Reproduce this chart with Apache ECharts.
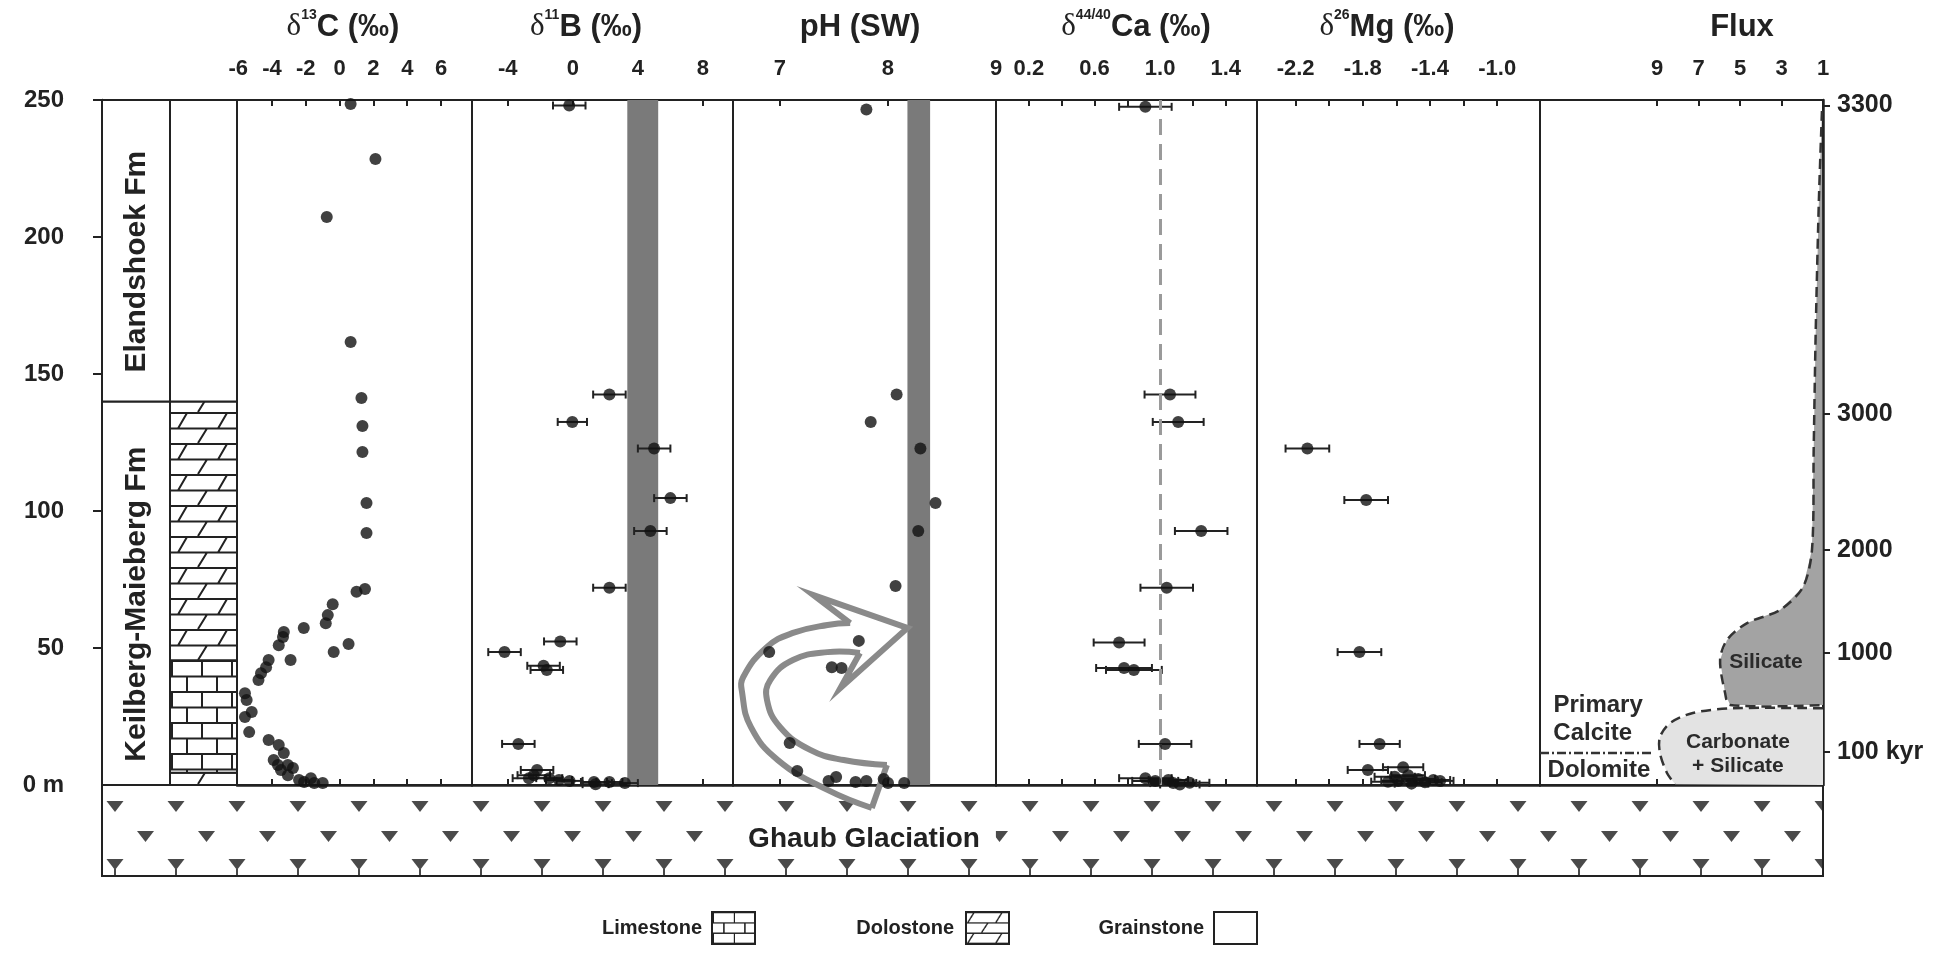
<!DOCTYPE html>
<html lang="en">
<head>
<meta charset="UTF-8">
<title>Ghaub cap carbonate profiles</title>
<script src="https://cdn.jsdelivr.net/npm/echarts@6/dist/echarts.min.js"></script>
<style>
    *{padding:0;margin:0;}
    html,body{width:100%;height:100%;background:#fff;}
    #main{width:1942px;height:958px;}
</style>
</head>
<body>
<div id="main"></div>
<script>
    // ---- data (depth in m above the glacial contact) ----
    var depthTicks = [0, 50, 100, 150, 200, 250];

    var formationName = ['Keilberg-Maieberg Fm', 'Elandshoek Fm'];
    var formationBase = [0, 140];
    var formationTop = [140, 250];
    var formationLabelDepth = [66, 191];

    var lithoType = ['dolostone', 'limestone', 'dolostone', 'grainstone'];
    var lithoBase = [0, 4.5, 45.5, 140];
    var lithoTop = [4.5, 45.5, 140, 250];

    var c13Value = [0.65, 2.12, -0.76, 0.65, 1.29, 1.35, 1.35, 1.59, 1.59, 1.0, 1.5, -0.41, -0.7, -0.82, -2.12, 0.53, -0.35,
        -3.3, -3.35, -3.6, -2.9, -4.2, -4.35, -4.65, -4.8, -5.6, -5.5, -5.2, -5.6, -5.35, -4.2, -3.6, -3.3, -3.9, -3.65, -3.06,
        -3.47, -2.76, -3.06, -2.4, -1.7, -1.0, -2.1, -1.5];
    var c13Depth = [248.5, 228.5, 207.3, 161.7, 141.2, 131, 121.5, 102.9, 92, 70.5, 71.5, 66, 62, 59, 57.3, 51.5, 48.5,
        55.8, 54, 51, 45.6, 45.6, 43, 40.8, 38.3, 33.5, 31, 26.6, 24.8, 19.3, 16.4, 14.6, 11.7, 9.1, 7.3, 7.3,
        5.5, 6.2, 3.6, 1.8, 2.5, 0.7, 1.1, 0.7];

    var b11Value = [-0.22, 2.25, -0.03, 5.0, 6.0, 4.77, 2.25, -0.77, -4.2, -1.8, -1.6, -3.35, -2.2, -2.4, -2.7, -1.45, -0.85, -0.2, 1.3, 2.25, 1.4, 3.2];
    var b11Depth = [248, 142.5, 132.5, 122.8, 104.7, 92.7, 72, 52.4, 48.5, 43.5, 42, 15, 5.5, 3.6, 2.5, 2.5, 1.8, 1.5, 1.1, 1.1, 0.3, 0.7];
    var b11Err = [1.0, 1.0, 0.9, 1.0, 1.0, 1.0, 1.0, 1.0, 1.0, 1.0, 1.0, 1.0, 1.0, 1.0, 1.0, 0.8, 0.8, 0.8, 0.8, 0.8, 0.8, 0.8];
    var b11Band = [3.35, 5.25];

    var phValue = [7.80, 8.08, 7.84, 8.30, 8.44, 8.28, 8.07, 7.73, 6.90, 7.48, 7.57, 7.09, 7.16, 7.45, 7.52, 7.70, 7.80, 7.96, 8.00, 8.15];
    var phDepth = [246.5, 142.5, 132.5, 122.8, 102.9, 92.7, 72.6, 52.6, 48.5, 43, 42.7, 15.3, 5.1, 1.5, 2.9, 1.1, 1.5, 2.2, 0.7, 0.7];
    var phBand = [8.18, 8.39];

    var caValue = [0.91, 1.06, 1.11, 1.25, 1.04, 0.75, 0.78, 0.84, 1.03, 0.91, 0.97, 1.05, 1.08, 1.12, 1.18];
    var caDepth = [247.5, 142.5, 132.5, 92.7, 72, 52, 42.7, 42, 15, 2.5, 1.5, 1.8, 0.7, 0.2, 0.8];
    var caErr = [0.16, 0.155, 0.155, 0.16, 0.16, 0.155, 0.17, 0.17, 0.16, 0.16, 0.14, 0.12, 0.14, 0.12, 0.12];
    var caRef = 1.0;

    var mgValue = [-2.13, -1.78, -1.82, -1.70, -1.77, -1.56, -1.61, -1.53, -1.47, -1.59, -1.38, -1.65, -1.51, -1.43, -1.34];
    var mgDepth = [122.8, 104, 48.5, 15, 5.5, 6.5, 3, 3.6, 2.2, 1.5, 1.8, 1.2, 0.5, 1.0, 1.5];
    var mgErr = [0.13, 0.13, 0.13, 0.12, 0.12, 0.12, 0.12, 0.1, 0.1, 0.1, 0.1, 0.1, 0.1, 0.1, 0.08];

    var silicateFlux = [1.05, 1.2, 1.35, 1.45, 1.53, 1.96, 3.07, 4.66, 5.63, 5.96, 5.72, 5.48, 1];
    var silicateDepth = [246, 213, 166, 122, 86, 72.3, 63.9, 59.1, 52.9, 45.6, 33.6, 29.2, 29.2];
    var carbSilFlux = [1, 5.34, 7.27, 8.37, 8.86, 8.86, 8.52, 8.13, 1];
    var carbSilDepth = [28, 28, 26.3, 22.6, 17.5, 11.7, 4.4, 0.3, 0];
    var dolomiteTopFlux = [14.64, 9.2];
    var dolomiteTopDepth = [11.7, 11.7];

    var fluxTextLabel = ['Silicate', 'Carbonate', '+ Silicate', 'Primary', 'Calcite', 'Dolomite'];
    var fluxTextFlux = [3.75, 5.1, 5.1, 11.84, 12.1, 11.8];
    var fluxTextDepth = [44.9, 15.7, 6.9, 29.2, 19, 5.5];

    var timeLabel = ['3300', '3000', '2000', '1000', '100 kyr'];
    var timeDepth = [248, 135.5, 85.8, 48.2, 12];

    var arrowOuterPH = [7.85, 7.44, 6.98, 6.73, 6.65, 6.66, 6.88, 7.12, 7.44, 7.65];
    var arrowOuterDepth = [-8.4, -1.8, 9.1, 21.2, 33.6, 39.4, 50.4, 55.5, 58.4, 59.1];
    var arrowHeadPH = [7.65, 7.31, 8.18, 7.56, 7.74];
    var arrowHeadDepth = [59.1, 69.3, 57.3, 35.4, 48.2];
    var arrowInnerPH = [7.74, 7.44, 7.12, 6.91, 6.88, 7.00, 7.28, 7.59, 7.99];
    var arrowInnerDepth = [48.2, 48.5, 45.6, 38.3, 31.0, 21.2, 12.8, 9.1, 7.3];

    // ---- layout ----
    var INK = '#222';
    var FONT = "'Liberation Sans', Arial, sans-serif";
    var panelLeft = [102, 170, 237, 472, 733, 996, 1257, 1540];
    var panelRight = [170, 237, 472, 733, 996, 1257, 1540, 1823];
    var GRID_TOP = 100, GRID_H = 685;

    function makeCanvas(w, h, draw) {
        var c = document.createElement('canvas');
        c.width = w; c.height = h;
        draw(c.getContext('2d'));
        return c;
    }
    var brickTile = makeCanvas(30, 31, function (g) {
        g.fillStyle = '#fff'; g.fillRect(0, 0, 30, 31);
        g.strokeStyle = INK; g.lineWidth = 2;
        g.beginPath();
        g.moveTo(0, 1); g.lineTo(30, 1);
        g.moveTo(0, 16.5); g.lineTo(30, 16.5);
        g.moveTo(2, 1); g.lineTo(2, 16.5);
        g.moveTo(17, 16.5); g.lineTo(17, 31);
        g.stroke();
    });
    var doloTile = makeCanvas(67, 31, function (g) {
        g.fillStyle = '#fff'; g.fillRect(0, 0, 67, 31);
        g.strokeStyle = INK; g.lineWidth = 2;
        g.beginPath();
        g.moveTo(0, 1); g.lineTo(67, 1);
        g.moveTo(0, 16.5); g.lineTo(67, 16.5);
        g.moveTo(8, 16.5); g.lineTo(17, 1);
        g.moveTo(48, 16.5); g.lineTo(57, 1);
        g.moveTo(28, 31); g.lineTo(37, 16.5);
        g.stroke();
    });
    var iceTile = makeCanvas(61, 91, function (g) {
        g.fillStyle = '#fff'; g.fillRect(0, 0, 61, 91);
        g.fillStyle = '#4a4a4a'; g.strokeStyle = '#4a4a4a'; g.lineWidth = 2;
        [[13, 22], [43.5, 52], [13, 80]].forEach(function (p) {
            g.beginPath();
            g.moveTo(p[0] - 8.5, p[1] - 6); g.lineTo(p[0] + 8.5, p[1] - 6); g.lineTo(p[0], p[1] + 5);
            g.closePath(); g.fill();
        });
        g.beginPath(); g.moveTo(13, 84); g.lineTo(13, 91); g.stroke();
    });
    var lithoFill = {
        limestone: {image: brickTile, repeat: 'repeat', x: 170, y: 784},
        dolostone: {image: doloTile, repeat: 'repeat', x: 170, y: 784},
        grainstone: '#fff'
    };

    var grids = panelLeft.map(function (l, i) {
        return {left: l, width: panelRight[i] - l, top: GRID_TOP, height: GRID_H,
            show: true, borderColor: INK, borderWidth: 2, backgroundColor: 'rgba(0,0,0,0)'};
    });

    var labelStyle = {color: INK, fontSize: 22, fontWeight: 'bold', fontFamily: FONT};
    function topAxis(grid, min, max, ticks, labels, fmt, inverse) {
        return {
            type: 'value', gridIndex: grid, position: 'top', min: min, max: max, inverse: !!inverse,
            axisLine: {show: true, lineStyle: {color: INK, width: 2.5}},
            axisTick: {show: true, length: 6, lineStyle: {color: INK, width: 2}, customValues: ticks},
            axisLabel: Object.assign({show: true, margin: 20, customValues: labels, formatter: fmt}, labelStyle),
            splitLine: {show: false}
        };
    }
    function innerTicks(grid, min, max, ticks, inverse) {
        return {
            type: 'value', gridIndex: grid, position: 'top', min: min, max: max, inverse: !!inverse,
            axisLine: {show: false},
            axisTick: {show: true, inside: true, length: 6, lineStyle: {color: INK, width: 2}, customValues: ticks},
            axisLabel: {show: false}, splitLine: {show: false}
        };
    }
    function hiddenAxis(grid) {
        return {type: 'value', gridIndex: grid, min: 0, max: 1, show: false};
    }
    var fmt1 = function (v) { return v.toFixed(1); };
    var fmtInt = function (v) { return String(Math.round(v)); };

    var c13Ticks = [-4, -2, 0, 2, 4, 6], c13Labels = [-6, -4, -2, 0, 2, 4, 6];
    var b11Ticks = [-4, 0, 4, 8];
    var phTicks = [7, 8], phLabels = [7, 8, 9];
    var caTicks = [0.2, 0.4, 0.6, 0.8, 1.0, 1.2, 1.4], caLabels = [0.2, 0.6, 1.0, 1.4];
    var mgTicks = [-2.2, -2.0, -1.8, -1.6, -1.4, -1.2, -1.0], mgLabels = [-2.2, -1.8, -1.4, -1.0];
    var fluxTicks = [9, 7, 5, 3, 1];

    var xAxes = [
        hiddenAxis(0), hiddenAxis(1),
        topAxis(2, -6.07, 7.83, c13Ticks, c13Labels, fmtInt),
        topAxis(3, -6.2, 9.85, b11Ticks, b11Ticks, fmtInt),
        topAxis(4, 6.565, 9.0, phTicks, phLabels, fmtInt),
        topAxis(5, 0, 1.59, caTicks, caLabels, fmt1),
        topAxis(6, -2.43, -0.745, mgTicks, mgLabels, fmt1),
        topAxis(7, 1, 14.64, fluxTicks, fluxTicks, fmtInt, true),
        innerTicks(2, -6.07, 7.83, c13Ticks),
        innerTicks(3, -6.2, 9.85, b11Ticks),
        innerTicks(4, 6.565, 9.0, phTicks),
        innerTicks(5, 0, 1.59, caTicks),
        innerTicks(6, -2.43, -0.745, mgTicks),
        innerTicks(7, 1, 14.64, fluxTicks, true)
    ];

    var yAxes = panelLeft.map(function (l, i) {
        return {type: 'value', gridIndex: i, min: 0, max: 250, show: false};
    });
    yAxes[0] = {
        type: 'value', gridIndex: 0, min: 0, max: 250, position: 'left', offset: 20,
        axisLine: {show: true, lineStyle: {color: INK, width: 2.5}},
        axisTick: {show: true, length: 9, lineStyle: {color: INK, width: 2}, customValues: depthTicks.slice(1)},
        axisLabel: {show: true, margin: 18, customValues: depthTicks, color: INK, fontSize: 24, fontWeight: 'bold', fontFamily: FONT,
            formatter: function (v) { return v === 0 ? '0 m' : String(v); }},
        splitLine: {show: false}
    };
    yAxes[7] = {
        type: 'value', gridIndex: 7, min: 0, max: 250, position: 'right',
        axisLine: {show: true, lineStyle: {color: INK, width: 2.5}},
        axisTick: {show: true, length: 7, lineStyle: {color: INK, width: 2}, customValues: timeDepth},
        axisLabel: {show: true, margin: 14, customValues: timeDepth, color: INK, fontSize: 25, fontWeight: 'bold', fontFamily: FONT,
            formatter: function (v) { return timeLabel[timeDepth.indexOf(v)] || ''; }},
        splitLine: {show: false}
    };

    function pairs(xs, ys) { return xs.map(function (x, i) { return [x, ys[i]]; }); }
    function triples(xs, es, ys) { return xs.map(function (x, i) { return [x, es[i], ys[i]]; }); }

    function errorBarItem(params, api) {
        var v = api.value(0), e = api.value(1), d = api.value(2);
        var a = api.coord([v - e, d]), b = api.coord([v + e, d]);
        var st = {stroke: INK, lineWidth: 2};
        return {type: 'group', children: [
            {type: 'line', shape: {x1: a[0], y1: a[1], x2: b[0], y2: b[1]}, style: st},
            {type: 'line', shape: {x1: a[0], y1: a[1] - 4, x2: a[0], y2: a[1] + 4}, style: st},
            {type: 'line', shape: {x1: b[0], y1: b[1] - 4, x2: b[0], y2: b[1] + 4}, style: st}
        ]};
    }
    function dots(name, xi, data, extra) {
        return Object.assign({
            name: name, type: 'scatter', xAxisIndex: xi, yAxisIndex: xi, data: data,
            symbol: 'circle', symbolSize: 12, itemStyle: {color: '#111'}, z: 5, silent: true
        }, extra || {});
    }
    function errBars(xi, data) {
        return {type: 'custom', xAxisIndex: xi, yAxisIndex: xi, data: data, encode: {x: 0, y: 2},
            renderItem: errorBarItem, z: 4, silent: true};
    }
    function band(lo, hi) {
        return {silent: true, itemStyle: {color: '#7a7a7a', opacity: 1}, data: [[{xAxis: lo}, {xAxis: hi}]]};
    }
    function toPts(api, xs, ys) { return xs.map(function (x, i) { return api.coord([x, ys[i]]); }); }

    var series = [
        {
            type: 'custom', xAxisIndex: 0, yAxisIndex: 0, silent: true,
            data: formationName.map(function (n, i) { return [i]; }),
            renderItem: function (params, api) {
                var i = params.dataIndex;
                var a = api.coord([0, formationTop[i]]), b = api.coord([1, formationBase[i]]);
                var c = api.coord([0.5, formationLabelDepth[i]]);
                return {type: 'group', children: [
                    {type: 'rect', shape: {x: a[0], y: a[1], width: b[0] - a[0], height: b[1] - a[1]},
                        style: {fill: '#fff', stroke: INK, lineWidth: 2}},
                    {type: 'text', x: c[0] + 1, y: c[1], rotation: Math.PI / 2,
                        style: {text: formationName[i], fill: INK, font: 'bold 30px ' + FONT, align: 'center', verticalAlign: 'middle'}}
                ]};
            }
        },
        {
            type: 'custom', xAxisIndex: 1, yAxisIndex: 1, silent: true,
            data: lithoType.map(function (t, i) { return [i]; }),
            renderItem: function (params, api) {
                var i = params.dataIndex;
                var a = api.coord([0, lithoTop[i]]), b = api.coord([1, lithoBase[i]]);
                return {type: 'rect', shape: {x: a[0], y: a[1], width: b[0] - a[0], height: b[1] - a[1]},
                    style: {fill: lithoFill[lithoType[i]], stroke: INK, lineWidth: 2}};
            }
        },
        dots('d13C', 2, pairs(c13Value, c13Depth)),
        errBars(3, triples(b11Value, b11Err, b11Depth)),
        dots('d11B', 3, pairs(b11Value, b11Depth), {markArea: band(b11Band[0], b11Band[1])}),
        {
            type: 'custom', xAxisIndex: 4, yAxisIndex: 4, silent: true, z: 3, data: [[0]],
            renderItem: function (params, api) {
                var st = {stroke: '#8a8a8a', lineWidth: 6, fill: 'none', lineJoin: 'miter'};
                var inner = toPts(api, arrowInnerPH, arrowInnerDepth);
                var tailA = api.coord([arrowOuterPH[0], arrowOuterDepth[0]]);
                return {type: 'group', children: [
                    {type: 'polyline', shape: {points: toPts(api, arrowOuterPH, arrowOuterDepth), smooth: 0.45}, style: st},
                    {type: 'polyline', shape: {points: toPts(api, arrowHeadPH, arrowHeadDepth)}, style: st},
                    {type: 'polyline', shape: {points: inner, smooth: 0.45}, style: st},
                    {type: 'line', shape: {x1: inner[inner.length - 1][0], y1: inner[inner.length - 1][1], x2: tailA[0], y2: tailA[1]}, style: st}
                ]};
            }
        },
        dots('pH', 4, pairs(phValue, phDepth), {markArea: band(phBand[0], phBand[1])}),
        errBars(5, triples(caValue, caErr, caDepth)),
        dots('d44Ca', 5, pairs(caValue, caDepth), {
            markLine: {silent: true, symbol: ['none', 'none'], label: {show: false},
                lineStyle: {color: '#9a9a9a', width: 3, type: [16, 9]}, data: [{xAxis: caRef}]}
        }),
        errBars(6, triples(mgValue, mgErr, mgDepth)),
        dots('d26Mg', 6, pairs(mgValue, mgDepth)),
        {
            type: 'custom', xAxisIndex: 7, yAxisIndex: 7, silent: true, z: 2, data: [[0], [1]],
            renderItem: function (params, api) {
                var sil = params.dataIndex === 0;
                var pts = sil ? toPts(api, silicateFlux, silicateDepth) : toPts(api, carbSilFlux, carbSilDepth);
                var outline = sil ? pts : pts.slice(0, pts.length - 1);
                return {type: 'group', children: [
                    {type: 'polygon', shape: {points: pts}, style: {fill: sil ? '#a3a3a3' : '#e3e3e3', stroke: 'none'}},
                    {type: 'polyline', shape: {points: outline, smooth: 0.3},
                        style: {fill: 'none', stroke: '#333', lineWidth: 2.5, lineDash: [10, 6]}}
                ]};
            }
        },
        {
            type: 'custom', xAxisIndex: 7, yAxisIndex: 7, silent: true, z: 3, data: [[0]],
            renderItem: function (params, api) {
                return {type: 'polyline', shape: {points: toPts(api, dolomiteTopFlux, dolomiteTopDepth)},
                    style: {fill: 'none', stroke: '#333', lineWidth: 2.5, lineDash: [9, 3, 2, 3]}};
            }
        },
        {
            type: 'custom', xAxisIndex: 7, yAxisIndex: 7, silent: true, z: 4,
            data: fluxTextLabel.map(function (t, i) { return [fluxTextFlux[i], fluxTextDepth[i]]; }),
            renderItem: function (params, api) {
                var i = params.dataIndex;
                var p = api.coord([api.value(0), api.value(1)]);
                var size = i < 3 ? 21 : 24;
                return {type: 'text', x: p[0], y: p[1],
                    style: {text: fluxTextLabel[i], fill: '#2a2a2a', font: 'bold ' + size + 'px ' + FONT, align: 'center', verticalAlign: 'middle'}};
            }
        }
    ];

    // ---- titles, glacial unit and legend ----
    function titleRich() {
        return {
            d: {fontFamily: "'Liberation Serif', 'DejaVu Serif', serif", fontSize: 31, fill: INK, lineHeight: 38},
            s: {fontFamily: FONT, fontSize: 14, fontWeight: 'bold', fill: INK, lineHeight: 16, verticalAlign: 'top'},
            t: {fontFamily: FONT, fontSize: 31, fontWeight: 'bold', fill: INK, lineHeight: 38}
        };
    }
    var titles = [
        {x: 343, text: '{d|δ}{s|13}{t|C (‰)}'},
        {x: 586, text: '{d|δ}{s|11}{t|B (‰)}'},
        {x: 860, text: '{t|pH (SW)}'},
        {x: 1136, text: '{d|δ}{s|44/40}{t|Ca (‰)}'},
        {x: 1387, text: '{d|δ}{s|26}{t|Mg (‰)}'},
        {x: 1742, text: '{t|Flux}'}
    ];
    var graphics = titles.map(function (t) {
        return {type: 'text', x: t.x, y: 27, silent: true,
            style: {text: t.text, rich: titleRich(), align: 'center', verticalAlign: 'middle'}};
    });
    graphics.push({type: 'rect', x: 102, y: 785, silent: true, z: -1,
        shape: {x: 0, y: 0, width: 1721, height: 91},
        style: {fill: {image: iceTile, repeat: 'repeat'}, stroke: INK, lineWidth: 2}});
    graphics.push({type: 'text', x: 864, y: 839, silent: true,
        style: {text: 'Ghaub Glaciation', fill: INK, font: 'bold 28px ' + FONT, align: 'center', verticalAlign: 'middle',
            backgroundColor: '#fff', padding: [2, 16, 2, 16]}});

    var legendItems = [
        {label: 'Limestone', textRight: 702, box: 712, fill: {image: brickTile, repeat: 'repeat', scaleX: 0.7, scaleY: 0.66}},
        {label: 'Dolostone', textRight: 954, box: 966, fill: {image: doloTile, repeat: 'repeat', scaleX: 0.7, scaleY: 0.66, x: -4}},
        {label: 'Grainstone', textRight: 1204, box: 1214, fill: '#fff'}
    ];
    legendItems.forEach(function (it) {
        graphics.push({type: 'text', x: it.textRight, y: 928, silent: true,
            style: {text: it.label, fill: INK, font: 'bold 20px ' + FONT, align: 'right', verticalAlign: 'middle'}});
        graphics.push({type: 'rect', x: it.box, y: 912, silent: true,
            shape: {x: 0, y: 0, width: 43, height: 32},
            style: {fill: it.fill, stroke: INK, lineWidth: 2}});
    });

    var myChart = echarts.init(document.getElementById('main'));
    var option = {
        animation: false,
        backgroundColor: '#fff',
        grid: grids,
        xAxis: xAxes,
        yAxis: yAxes,
        series: series,
        graphic: graphics
    };
    myChart.setOption(option);
</script>
</body>
</html>
